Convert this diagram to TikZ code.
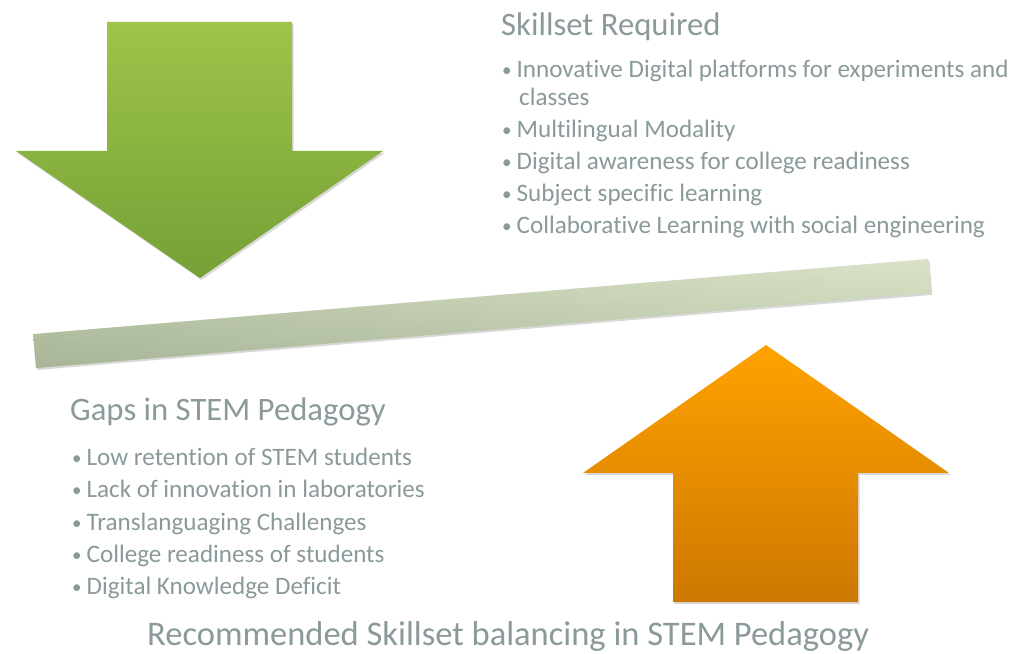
\documentclass[tikz,border=0pt]{standalone}
\usepackage{fontspec}
\setmainfont{Carlito}[Ligatures=NoCommon]
\usetikzlibrary{shadows}
\definecolor{textgray}{HTML}{8A9A9A}
\definecolor{greentop}{HTML}{9DC54A}
\definecolor{greenbot}{HTML}{76A036}
\definecolor{orangetop}{HTML}{FFA200}
\definecolor{orangebot}{HTML}{CC7700}
\definecolor{barlight}{HTML}{DAE3C9}
\definecolor{bardark}{HTML}{A8B596}
\newcommand{\bul}{\raisebox{1pt}{\fontsize{19}{19}\selectfont •}\hspace{5pt}}

\begin{document}
\begin{tikzpicture}[x=1pt, y=1pt,
                txt/.style={text=textgray, inner sep=0pt, anchor=base west},
                head/.style={txt, font=\fontsize{32.7}{38}\selectfont},
                item/.style={txt, font=\fontsize{25.1}{30}\selectfont},
                soft/.style={drop shadow={shadow xshift=1.5pt, shadow yshift=-2pt, opacity=0.25, fill=black!60}}
            ]
                \useasboundingbox[fill=white] (0,0) rectangle (1024,653);

                % arrows and balance bar
                \shade[soft, top color=greentop, bottom color=greenbot]
                    (107,631) -- (292,631) -- (292,502) -- (383,502) -- (200,375) -- (16,502) -- (107,502) -- cycle;
                \shade[soft, top color=orangetop, bottom color=orangebot]
                    (766,308) -- (949,180) -- (858,180) -- (858,51) -- (673,51) -- (673,180) -- (583,180) -- cycle;
                \begin{scope}[shift={(36,285)}, rotate=4.8]
                    \shade[soft, top color=barlight, bottom color=bardark] (0,0) rectangle (898,34);
                    \shade[left color=bardark, right color=barlight, opacity=0.45] (0,0) rectangle (898,34);
                \end{scope}

                % skills required
                \node[head] (skills) at (501,617) {Skillset Required};
                \node[item] (req1) at (502,575) {\bul Innovative Digital platforms for experiments and};
                \node[item] (req1b) at (519,547) {classes};
                \node[item] (req2) at (502,515) {\bul Multilingual Modality};
                \node[item] (req3) at (502,483) {\bul Digital awareness for college readiness};
                \node[item] (req4) at (502,451) {\bul Subject specific learning};
                \node[item] (req5) at (502,419) {\bul Collaborative Learning with social engineering};

                % gaps
                \node[head] (gaps) at (70,232) {Gaps in STEM Pedagogy};
                \node[item] (gap1) at (72,187) {\bul Low retention of STEM students};
                \node[item] (gap2) at (72,155) {\bul Lack of innovation in laboratories};
                \node[item] (gap3) at (72,123) {\bul Translanguaging Challenges};
                \node[item] (gap4) at (72,91) {\bul College readiness of students};
                \node[item] (gap5) at (72,59) {\bul Digital Knowledge Deficit};

                \node[txt, font=\fontsize{34.5}{40}\selectfont] (caption) at (147,8) {Recommended Skillset balancing in STEM Pedagogy};
            \end{tikzpicture}
\end{document}
